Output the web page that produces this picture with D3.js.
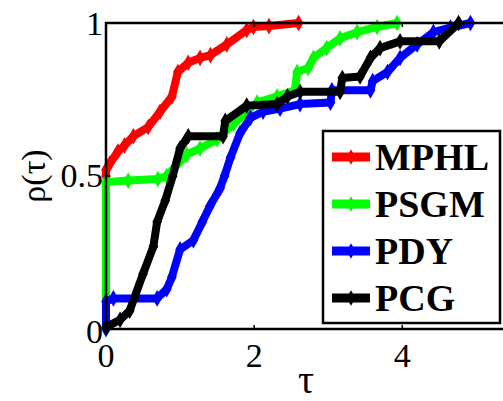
<!DOCTYPE html>
<head>
    <meta charset="utf-8">
    <script src="https://d3js.org/d3.v7.min.js"></script>
</head>
<body style="background: white; margin: 0">
    <div id="my_dataviz"></div>
    <script>
        // performance profile curves, [tau, rho]
        var mphl = [[0, 0.5], [0, 0.52], [0.05, 0.54], [0.16, 0.58], [0.25, 0.6], [0.37, 0.63], [0.57, 0.66],
            [0.73, 0.71], [0.89, 0.76], [0.97, 0.84], [1.11, 0.87], [1.27, 0.886], [1.41, 0.895],
            [1.63, 0.93], [1.9, 0.977], [1.99, 0.987], [2.2, 0.99], [2.6, 1.0]];
        var psgm = [[0, 0], [0, 0.48], [0.3, 0.485], [0.7, 0.49], [0.82, 0.5], [1.09, 0.57], [1.27, 0.59],
            [1.5, 0.62], [1.72, 0.67], [1.9, 0.71], [2.04, 0.74], [2.31, 0.76], [2.55, 0.78],
            [2.58, 0.84], [2.73, 0.853], [2.8, 0.886], [2.98, 0.918], [3.16, 0.95], [3.39, 0.97],
            [3.66, 0.987], [3.93, 1.0]];
        var pdy = [[0, 0], [0, 0.09], [0.1, 0.1], [0.69, 0.1], [0.82, 0.13], [0.89, 0.17], [1.0, 0.26],
            [1.18, 0.29], [1.3, 0.35], [1.4, 0.4], [1.54, 0.46], [1.6, 0.5], [1.68, 0.56], [1.81, 0.64],
            [1.95, 0.69], [2.12, 0.71], [2.35, 0.72], [2.62, 0.735], [3.03, 0.74], [3.05, 0.78],
            [3.57, 0.78], [3.6, 0.81], [3.8, 0.84], [3.97, 0.886], [4.2, 0.93], [4.42, 0.97],
            [4.65, 0.985], [4.92, 1.0]];
        var pcg = [[0, 0.006], [0.19, 0.03], [0.32, 0.06], [0.5, 0.18], [0.64, 0.27], [0.69, 0.35],
            [0.8, 0.42], [0.9, 0.5], [1.0, 0.59], [1.11, 0.63], [1.58, 0.63], [1.61, 0.68], [1.9, 0.73],
            [2.31, 0.735], [2.45, 0.76], [2.62, 0.775], [3.16, 0.775], [3.19, 0.82], [3.43, 0.825],
            [3.57, 0.886], [3.7, 0.918], [3.97, 0.94], [4.5, 0.94], [4.76, 1.0]];

        var names = ["MPHL", "PSGM", "PDY", "PCG"];
        var colors = ["#ff0000", "#00ff00", "#0000ff", "#000000"];
        var series = [mphl, psgm, pdy, pcg];
        var xTicks = [0, 2, 4];
        var yTicks = [0, 0.5, 1];

        var font = "Liberation Serif";
        var width = 503, height = 401;
        var margin = { top: 23, right: -3, bottom: 72, left: 106 };

        var svg = d3.select("#my_dataviz")
            .append("svg")
            .attr("width", width)
            .attr("height", height);

        var x = d3.scaleLinear().domain([0, 5.4]).range([margin.left, width - margin.right]);
        var y = d3.scaleLinear().domain([0, 1]).range([height - margin.bottom, margin.top]);

        var line = d3.line()
            .x(function (d) { return x(d[0]) })
            .y(function (d) { return y(d[1]) });

        // curves
        series.forEach(function (s, i) {
            svg.append("path")
                .datum(s)
                .attr("d", line)
                .attr("fill", "none")
                .attr("stroke", colors[i])
                .attr("stroke-width", 8)
                .attr("stroke-linejoin", "round");
            svg.selectAll(null)
                .data(s)
                .enter()
                .append("path")
                .attr("d", d3.symbol().type(d3.symbolDiamond).size(80))
                .attr("transform", function (d) { return "translate(" + x(d[0]) + "," + y(d[1]) + ")" })
                .attr("fill", colors[i]);
        });

        // axes box
        var x0 = x(0), x1 = width + 5, y0 = y(0), y1 = y(1);
        svg.append("path")
            .attr("d", "M" + x1 + "," + y1 + "H" + x0 + "V" + y0 + "H" + x1)
            .attr("fill", "none")
            .attr("stroke", "black")
            .attr("stroke-width", 2.5);

        // ticks (inward)
        xTicks.forEach(function (t) {
            svg.append("line").attr("x1", x(t)).attr("x2", x(t)).attr("y1", y0).attr("y2", y0 - 4)
                .attr("stroke", "black").attr("stroke-width", 1.5);
            svg.append("line").attr("x1", x(t)).attr("x2", x(t)).attr("y1", y1).attr("y2", y1 + 4)
                .attr("stroke", "black").attr("stroke-width", 1.5);
            svg.append("text")
                .attr("x", x(t))
                .attr("y", y0 + 38)
                .attr("text-anchor", "middle")
                .attr("font-family", font)
                .attr("font-size", 34)
                .text(t);
        });
        yTicks.forEach(function (t) {
            svg.append("line").attr("x1", x0).attr("x2", x0 + 4).attr("y1", y(t)).attr("y2", y(t))
                .attr("stroke", "black").attr("stroke-width", 1.5);
            svg.append("text")
                .attr("x", x0 - 3)
                .attr("y", y(t) + 11 + (t == 0 ? 3 : 0) + (t == 1 ? 1 : 0))
                .attr("text-anchor", "end")
                .attr("font-family", font)
                .attr("font-size", 34)
                .text(t);
        });

        // axis labels
        svg.append("text")
            .attr("transform", "translate(45," + y(0.5) + ") rotate(-90)")
            .attr("text-anchor", "middle")
            .attr("font-family", font)
            .attr("font-size", 34)
            .text("ρ(τ)");
        svg.append("text")
            .attr("x", x(2.7))
            .attr("y", 393)
            .attr("text-anchor", "middle")
            .attr("font-family", font)
            .attr("font-size", 40)
            .text("τ");

        // legend
        var lg = svg.append("g").attr("transform", "translate(323,131)");
        lg.append("rect")
            .attr("width", 177)
            .attr("height", 192)
            .attr("fill", "white")
            .attr("stroke", "black")
            .attr("stroke-width", 2.5);
        names.forEach(function (n, i) {
            var yy = 26 + i * 47;
            lg.append("line")
                .attr("x1", 9).attr("x2", 47).attr("y1", yy).attr("y2", yy)
                .attr("stroke", colors[i]).attr("stroke-width", 9);
            lg.append("path")
                .attr("d", d3.symbol().type(d3.symbolDiamond).size(70))
                .attr("transform", "translate(28," + yy + ")")
                .attr("fill", colors[i]);
            lg.append("text")
                .attr("x", 52)
                .attr("y", yy + 13)
                .attr("font-family", font)
                .attr("font-size", 38)
                .attr("font-weight", "bold")
                .text(n);
        });
    </script>
</body>
</html>
